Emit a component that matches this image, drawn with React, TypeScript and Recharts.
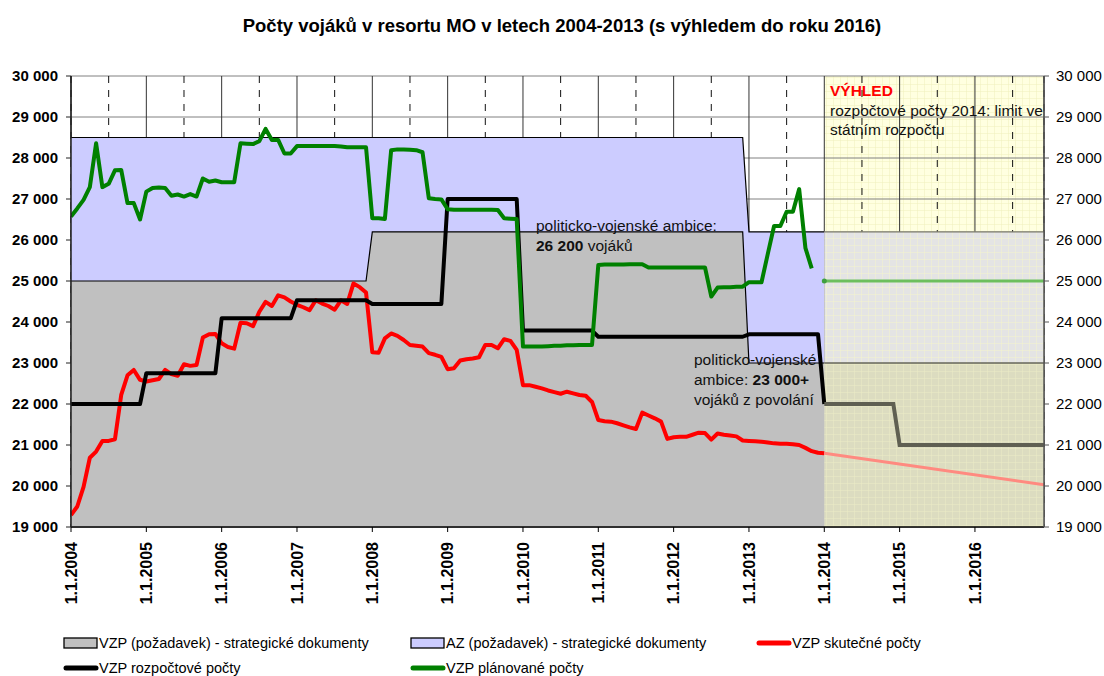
import React from "react";
import {
  ComposedChart,
  Area,
  Line,
  XAxis,
  YAxis,
  CartesianGrid,
  ReferenceArea,
} from "recharts";

// month index: 0 = 1.1.2004, 155 = 12/2016
const yearTicks = [0, 12, 24, 36, 48, 60, 72, 84, 96, 108, 120, 132, 144];
const yearLabels = [
  "1.1.2004", "1.1.2005", "1.1.2006", "1.1.2007", "1.1.2008", "1.1.2009", "1.1.2010",
  "1.1.2011", "1.1.2012", "1.1.2013", "1.1.2014", "1.1.2015", "1.1.2016",
];
const midYearTicks = [6, 18, 30, 42, 54, 66, 78, 90, 102, 114, 126, 138, 150];
const yTicks = [19000, 20000, 21000, 22000, 23000, 24000, 25000, 26000, 27000, 28000, 29000, 30000];
const outlookStart = 120;
const lastMonth = 155;

// AZ (požadavek) - strategické dokumenty
const azMonths = [0, 107, 108, 120];
const azValues = [28500, 28500, 26200, 26200];
const azOutlookMonths = [120, 155];
const azOutlookValues = [26200, 26200];

// VZP (požadavek) - strategické dokumenty
const vzpReqMonths = [0, 47, 48, 107, 108, 120];
const vzpReqValues = [25000, 25000, 26200, 26200, 23000, 23000];
const vzpReqOutlookMonths = [120, 155];
const vzpReqOutlookValues = [23000, 23000];

// VZP skutečné počty (monthly from 1/2004)
const actual = [
  19290, 19500, 19980, 20690, 20840, 21100, 21100, 21140, 22220, 22700, 22830, 22590,
  22550, 22580, 22610, 22830, 22730, 22690, 22970, 22930, 22950, 23620, 23700, 23710,
  23480, 23390, 23350, 23980, 23970, 23900, 24250, 24490, 24390, 24650, 24600, 24500,
  24420, 24360, 24290, 24530, 24450, 24390, 24300, 24530, 24440, 24940, 24850, 24720,
  23260, 23250, 23600, 23720, 23660, 23560, 23440, 23420, 23400, 23240, 23200, 23150,
  22850, 22870, 23060, 23090, 23110, 23140, 23440, 23440, 23360, 23580, 23540, 23320,
  22460, 22460, 22420, 22380, 22330, 22290, 22250, 22300, 22260, 22220, 22200, 22050,
  21610, 21580, 21570, 21530, 21480, 21430, 21390, 21790, 21720, 21650, 21570, 21150,
  21190, 21200, 21200, 21250, 21300, 21290, 21130, 21280, 21250, 21230, 21210, 21110,
  21100, 21090, 21080, 21060, 21040, 21030, 21030, 21020, 21000, 20930, 20850, 20810,
  20800,
];
const actualOutlookMonths = [120, 155];
const actualOutlookValues = [20800, 20030];

// VZP rozpočtové počty
const budgetMonths = [0, 11, 12, 23, 24, 35, 36, 47, 48, 59, 60, 71, 72, 83, 84, 107, 108, 119, 120];
const budgetValues = [
  22000, 22000, 22750, 22750, 24090, 24090, 24530, 24530, 24440, 24440,
  27000, 27000, 23790, 23790, 23640, 23640, 23700, 23700, 22000,
];
const budgetOutlookMonths = [120, 131, 132, 155];
const budgetOutlookValues = [22000, 22000, 21000, 21000];

// VZP plánované počty (monthly from 1/2004)
const planned = [
  26570, 26770, 26980, 27290, 28360, 27290, 27370, 27700, 27710, 26900, 26900, 26500,
  27180, 27270, 27280, 27270, 27080, 27110, 27060, 27120, 27060, 27500, 27420, 27450,
  27410, 27410, 27410, 28360, 28350, 28340, 28410, 28710, 28440, 28440, 28110, 28110,
  28290, 28290, 28290, 28290, 28290, 28290, 28290, 28280, 28260, 28260, 28260, 28260,
  26530, 26530, 26510, 28190, 28210, 28210, 28200, 28190, 28140, 27020, 27000, 26990,
  26750, 26740, 26740, 26740, 26740, 26740, 26740, 26740, 26730, 26530, 26520, 26510,
  23400, 23400, 23400, 23400, 23410, 23420, 23420, 23430, 23430, 23440, 23440, 23440,
  25390, 25400, 25400, 25400, 25400, 25410, 25410, 25410, 25330, 25330, 25330, 25330,
  25330, 25330, 25330, 25330, 25330, 25330, 24620, 24840, 24850, 24850, 24860, 24860,
  24970, 24970, 24970, 25660, 26340, 26340, 26690, 26690, 27240, 25800, 25310,
];
const plannedOutlookMonths = [120, 155];
const plannedOutlookValues = [25000, 25000];

type Row = { m: number; [key: string]: number | undefined };

function buildTable(): Row[] {
  const rows = new Map<number, Row>();
  const put = (key: string, months: number[], values: number[]) => {
    months.forEach((m, i) => {
      const row = rows.get(m) ?? { m };
      row[key] = values[i];
      rows.set(m, row);
    });
  };
  put("az", azMonths, azValues);
  put("azOut", azOutlookMonths, azOutlookValues);
  put("vzpReq", vzpReqMonths, vzpReqValues);
  put("vzpReqOut", vzpReqOutlookMonths, vzpReqOutlookValues);
  put("actual", actual.map((_, i) => i), actual);
  put("actualOut", actualOutlookMonths, actualOutlookValues);
  put("budget", budgetMonths, budgetValues);
  put("budgetOut", budgetOutlookMonths, budgetOutlookValues);
  put("planned", planned.map((_, i) => i), planned);
  put("plannedOut", plannedOutlookMonths, plannedOutlookValues);
  return [...rows.values()].sort((a, b) => a.m - b.m);
}

const FONT = "'Liberation Sans', Arial, sans-serif";

const fmt = (v: number) => String(v).replace(/\B(?=(\d{3})+(?!\d))/g, " ");

const XTick = (props: any) => {
  const { x, y, payload } = props;
  const label = yearLabels[yearTicks.indexOf(payload.value)];
  return (
    <g transform={`translate(${x},${y})`}>
      <text
        transform="rotate(-90)"
        x={-8}
        y={0}
        dy="0.36em"
        textAnchor="end"
        fontSize={16}
        fontWeight="bold"
        fontFamily={FONT}
        fill="#000"
      >
        {label}
      </text>
    </g>
  );
};

const OutlookDot = (props: any) => {
  const { cx, cy, payload, key } = props;
  if (payload?.m === plannedOutlookMonths[0] && cy != null) {
    return <circle key={key} cx={cx} cy={cy} r={2.5} fill="#3f9f3f" />;
  }
  return <g key={key} />;
};

const legendItems = [
  { label: "VZP (požadavek) - strategické dokumenty", kind: "box", color: "#C0C0C0" },
  { label: "AZ (požadavek) - strategické dokumenty", kind: "box", color: "#CCCCFF" },
  { label: "VZP skutečné počty", kind: "line", color: "#FF0000" },
  { label: "VZP rozpočtové počty", kind: "line", color: "#000000" },
  { label: "VZP plánované počty", kind: "line", color: "#008000" },
];

export default function App() {
  const data = buildTable();
  const legendCols = [64, 411, 757];
  const legendRows = [643, 668];

  return (
    <div
      style={{
        position: "absolute",
        left: 0,
        top: 0,
        width: 1104,
        height: 676,
        background: "#fff",
        fontFamily: FONT,
        overflow: "hidden",
      }}
    >
      <ComposedChart
        width={1104}
        height={676}
        data={data}
        margin={{ top: 76, right: 0, bottom: 69, left: 0 }}
      >
        <defs>
          <pattern id="patYellow" width="7" height="7" patternUnits="userSpaceOnUse">
            <rect width="7" height="7" fill="#FFFFE0" />
            <path d="M 7 0 L 0 0 0 7" fill="none" stroke="#F0F0BC" strokeWidth="1" />
          </pattern>
          <pattern id="patGrey" width="7" height="7" patternUnits="userSpaceOnUse">
            <rect width="7" height="7" fill="#E4E4E4" />
            <path d="M 7 0 L 0 0 0 7" fill="none" stroke="#F4F4CC" strokeWidth="1" />
          </pattern>
          <pattern id="patTan" width="7" height="7" patternUnits="userSpaceOnUse">
            <rect width="7" height="7" fill="#DCDCC0" />
            <path d="M 7 0 L 0 0 0 7" fill="none" stroke="#ECECC6" strokeWidth="1" />
          </pattern>
        </defs>

        <XAxis
          type="number"
          dataKey="m"
          domain={[0, lastMonth]}
          ticks={yearTicks}
          interval={0}
          allowDataOverflow
          height={80}
          tick={<XTick />}
          tickSize={5}
          axisLine={{ stroke: "#000", strokeWidth: 1.5 }}
          tickLine={{ stroke: "#000" }}
        />
        <XAxis xAxisId="mid" type="number" dataKey="m" domain={[0, lastMonth]} ticks={midYearTicks} interval={0} hide />
        <YAxis
          yAxisId="left"
          domain={[19000, 30000]}
          ticks={yTicks}
          interval={0}
          allowDataOverflow
          width={71}
          tickFormatter={fmt}
          tickSize={5}
          tickMargin={8}
          tick={{ fontSize: 15, fontWeight: "bold", fill: "#000", fontFamily: FONT }}
          axisLine={{ stroke: "#222", strokeWidth: 1.5 }}
          tickLine={{ stroke: "#222" }}
        />
        <YAxis
          yAxisId="right"
          orientation="right"
          domain={[19000, 30000]}
          ticks={yTicks}
          interval={0}
          allowDataOverflow
          width={60}
          tickFormatter={fmt}
          tickSize={5}
          tickMargin={7}
          tick={{ fontSize: 15, fill: "#000", fontFamily: FONT }}
          axisLine={{ stroke: "#555", strokeWidth: 1.5 }}
          tickLine={{ stroke: "#555" }}
        />

        <ReferenceArea
          yAxisId="left"
          x1={outlookStart}
          x2={lastMonth}
          y1={19000}
          y2={30000}
          fill="url(#patYellow)"
          fillOpacity={1}
          stroke="none"
          zIndex={-200}
        />

        <CartesianGrid yAxisId="left" vertical={false} stroke="#808080" strokeWidth={1} />
        <CartesianGrid yAxisId="left" horizontal={false} stroke="#333" strokeWidth={1} />
        <CartesianGrid yAxisId="left" xAxisId="mid" horizontal={false} stroke="#111" strokeDasharray="7 7" />

        <Area yAxisId="left" dataKey="az" type="linear" connectNulls baseValue={19000}
          fill="#CCCCFF" fillOpacity={1} stroke="#000" strokeWidth={1.2} isAnimationActive={false} />
        <Area yAxisId="left" dataKey="azOut" type="linear" connectNulls baseValue={19000}
          fill="url(#patGrey)" fillOpacity={1} stroke="#77776a" strokeWidth={1.2} isAnimationActive={false} />
        <Area yAxisId="left" dataKey="vzpReq" type="linear" connectNulls baseValue={19000}
          fill="#C0C0C0" fillOpacity={1} stroke="#000" strokeWidth={1.2} isAnimationActive={false} />
        <Area yAxisId="left" dataKey="vzpReqOut" type="linear" connectNulls baseValue={19000}
          fill="url(#patTan)" fillOpacity={1} stroke="#66665a" strokeWidth={1.5} isAnimationActive={false} />

        <Line yAxisId="left" dataKey="actual" type="linear" connectNulls dot={false}
          stroke="#FF0000" strokeWidth={4} strokeLinejoin="round" isAnimationActive={false} />
        <Line yAxisId="left" dataKey="actualOut" type="linear" connectNulls dot={false}
          stroke="#FF8A80" strokeWidth={3} isAnimationActive={false} />
        <Line yAxisId="left" dataKey="budget" type="linear" connectNulls dot={false}
          stroke="#000" strokeWidth={4} strokeLinejoin="round" isAnimationActive={false} />
        <Line yAxisId="left" dataKey="budgetOut" type="linear" connectNulls dot={false}
          stroke="#5f5f52" strokeWidth={4} isAnimationActive={false} />
        <Line yAxisId="left" dataKey="planned" type="linear" connectNulls dot={false}
          stroke="#008000" strokeWidth={4} strokeLinejoin="round" isAnimationActive={false} />
        <Line yAxisId="left" dataKey="plannedOut" type="linear" connectNulls dot={<OutlookDot />}
          stroke="#6cbf5e" strokeWidth={3} isAnimationActive={false} />
      </ComposedChart>

      <svg
        width={1104}
        height={676}
        style={{ position: "absolute", left: 0, top: 0, pointerEvents: "none" }}
        fontFamily={FONT}
      >
        <text x={562} y={32} textAnchor="middle" fontSize={18.5} fontWeight="bold" fill="#000">
          Počty vojáků v resortu MO v letech 2004-2013 (s výhledem do roku 2016)
        </text>

        <g fontSize={15.5} fill="#111">
          <text x={536} y={231}>politicko-vojenské ambice:</text>
          <text x={536} y={251}>
            <tspan fontWeight="bold">26 200</tspan> vojáků
          </text>

          <text x={830} y={96} fill="#FF0000" fontWeight="bold">VÝHLED</text>
          <text x={830} y={116}>rozpočtové počty 2014: limit ve</text>
          <text x={830} y={135}>státním rozpočtu</text>

          <text x={694} y={365}>politicko-vojenské</text>
          <text x={694} y={385}>
            ambice: <tspan fontWeight="bold">23 000+</tspan>
          </text>
          <text x={694} y={405}>vojáků z povolání</text>
        </g>

        <g fontSize={14.5} fill="#000">
          {legendItems.map((item, i) => {
            const x = legendCols[i % 3];
            const y = legendRows[Math.floor(i / 3)];
            return (
              <g key={item.label}>
                {item.kind === "box" ? (
                  <rect x={x} y={y - 5} width={33} height={10} fill={item.color} stroke="#000" strokeWidth={1.3} />
                ) : (
                  <line x1={x + 2} y1={y} x2={x + 32} y2={y} stroke={item.color} strokeWidth={5} strokeLinecap="round" />
                )}
                <text x={x + 35} y={y + 5}>{item.label}</text>
              </g>
            );
          })}
        </g>
      </svg>
    </div>
  );
}
